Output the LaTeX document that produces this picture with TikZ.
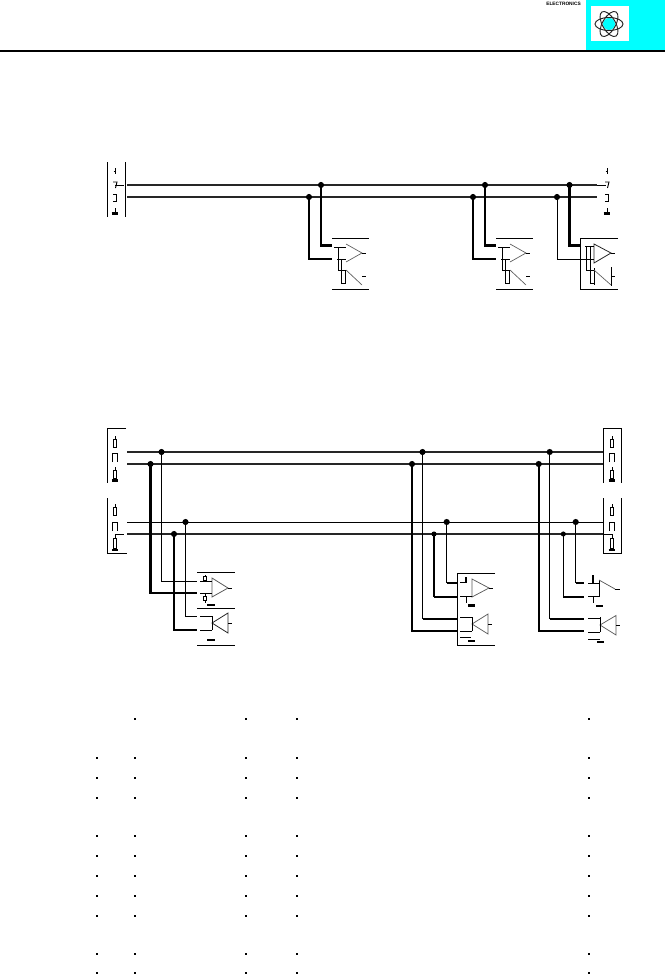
\documentclass[tikz,border=0pt]{standalone}
\usepackage{fontspec}
\setmainfont{Liberation Sans}
\definecolor{logocyan}{RGB}{0,255,255}
\definecolor{busgrey}{RGB}{150,150,150}
\tikzset{
 x=0.75pt,y=-0.75pt,
 thinwire/.style={line width=0.7pt,black},
 midwire/.style={line width=1.05pt,black},
 thickwire/.style={line width=1.65pt,black},
 buswire/.style={line width=2.2pt,busgrey,postaction={draw,line width=1pt,black!85}},
 palewire/.style={line width=0.5pt,black!65},
 darkwire/.style={line width=0.6pt,black!85},
 gndbar/.style={line width=1.6pt,black},
 junction/.style={circle,fill=black,inner sep=0pt,minimum size=4.6pt},
 gridpt/.style={rectangle,fill=black,inner sep=0pt,minimum size=1.7pt},
 orbit/.style={line width=0.7pt,black!85,draw},
}
% resistor lead + narrow body
\newcommand{\zigtop}[2]{\draw[thinwire] (#1,#2) -- (#1,#2+3) -- (#1-1.8,#2+3) -- (#1-1.8,#2+11) -- (#1+1.8,#2+11) -- (#1+1.8,#2+3) -- (#1,#2+3);}
\newcommand{\resbox}[2]{\draw[thinwire] (#1-2.2,#2+9) -- (#1-2.2,#2) -- (#1+2.2,#2) -- (#1+2.2,#2+9);}
\begin{document}
\begin{tikzpicture}
\useasboundingbox (0,0) rectangle (665,974);
% ---------- header ----------
\fill[logocyan] (586,0) rectangle (665,50);
\fill[white] (591,6) rectangle (629,41);
\fill[logocyan] (609,24) circle (6);
\foreach \a in {0,60,120} \draw[orbit,rotate around={\a:(609,24)}] (609,24) ellipse (14 and 6.5);
\draw[line width=0.9pt] (0,51) -- (665,51);
\node[font=\fontsize{3.6pt}{4pt}\selectfont\bfseries,inner sep=0pt] (brand) at (563.5,3.5) {ELECTRONICS};

% ---------- diagram 1: connectors ----------
\draw[thinwire] (107,162) -- (107,217) (125.5,162) -- (125.5,217);
\foreach \px in {115,607}{
  \draw[thinwire] (\px-1.5,171) -- (\px+.5,171) (\px+.5,168) -- (\px+.5,174);
  \draw[thinwire] (\px-2,182) -- (\px+2,182) -- (\px+.5,188);
  \draw[thinwire] (\px-2,194) -- (\px+1,194) -- (\px+1,201) -- (\px-2,201);
  \draw[thinwire] (\px,208) -- (\px,212);
  \draw[gndbar] (\px-3.5,213.5) -- (\px+3,213.5);
}
\coordinate (p1a) at (115,185);
\coordinate (p1b) at (124,185);
\draw[thinwire] (p1a) -- (p1b);
% buses
\coordinate (b1L) at (127,185); \coordinate (b1R) at (597,185);
\coordinate (b2L) at (127,197); \coordinate (b2R) at (597,197);
\draw[buswire] (b1L) -- (b1R);
\draw[buswire] (b2L) -- (b2R);
\coordinate (p2a) at (597,185); \coordinate (p2b) at (606,185);
\draw[thinwire] (p2a) -- (p2b);
% junctions
\node[junction] (j1a) at (321,185) {};
\node[junction] (j1b) at (309,197) {};
\node[junction] (j2a) at (485,185) {};
\node[junction] (j2b) at (473,197) {};
\node[junction] (j3a) at (569.5,185) {};
\node[junction] (j3b) at (557,197) {};
% transceivers 1 and 2 (open style)
\foreach \dx in {0,164}{
  \begin{scope}[xshift=\dx*0.75pt]
  \draw[palewire] (346,244) -- (362,253) -- (346,262);
  \draw[palewire] (346,270) -- (362,285);
  \draw[thinwire] (332,238) -- (369,238) (332,289) -- (369,289);
  \draw[thinwire] (362,253) -- (366,253) (362,276) -- (366,276);
  \draw[thinwire] (334,247) -- (346,247) (337,259) -- (346,259);
  \draw[thinwire] (338,247) -- (338,270) -- (345,270);
  \draw[thinwire] (341.5,259) -- (341.5,283) -- (346,283);
  \draw[thinwire] (345,270) -- (345,283);
  \end{scope}
}
\coordinate (t1a) at (332,245.5); \coordinate (t1b) at (332,259);
\coordinate (t2a) at (496,245.5); \coordinate (t2b) at (496,259);
\draw[thickwire] (j1a.center) |- (t1a);
\draw[thickwire] (j1b.center) |- (t1b);
\draw[thickwire] (j2a.center) |- (t2a);
\draw[thickwire] (j2b.center) |- (t2b);
% transceiver 3 (boxed)
\coordinate (k3a) at (580,245.5);
\coordinate (k3b) at (580,259);
\draw[thickwire] (j3a.center) |- (k3a);
\draw[thinwire] (j3b.center) |- (k3b);
\draw[thinwire] (618,238) -- (580,238) -- (580,289) -- (618,289);
\draw[darkwire] (594,244) -- (611,253) -- (594,263) -- cycle;
\draw[thinwire] (611,253) -- (615,253);
\draw[thinwire] (585,246) -- (594,246) (580,259) -- (594,259);
\draw[thinwire] (586,246) -- (586,270) -- (594,270);
\draw[thinwire] (590,246) -- (590,283) -- (594,283);
\draw[thinwire] (594,268) -- (594,285);
\draw[palewire] (594,270) -- (611,285);
\draw[thinwire] (611,267) -- (611,286) (611,276) -- (615,276);

% ---------- diagram 2: connectors ----------
\draw[thinwire] (126,428) -- (107,428) -- (107,483);
\draw[thinwire] (107,498) -- (107,553) -- (126.5,553);
\draw[thinwire] (603,483) -- (603,428) -- (621.5,428) -- (621.5,483);
\draw[thinwire] (603,498) -- (603,553) -- (621.5,553) -- (621.5,498);
\foreach \px in {115,612}{
  \zigtop{\px}{436}
  \resbox{\px}{453}
  \zigtop{\px}{467}
  \draw[gndbar] (\px-3.5,480.5) -- (\px+3,480.5);
  \zigtop{\px}{504}
  \resbox{\px}{522}
  \draw[thinwire] (\px,534) -- (\px,538) (\px-1.8,538) rectangle (\px+1.8,548);
  \draw[gndbar] (\px-3.5,550) -- (\px+3,550);
}
% pin 3 stubs
\coordinate (s1a) at (115,534); \coordinate (s1b) at (124,534);
\coordinate (s2a) at (603,534); \coordinate (s2b) at (612,534);
\draw[thinwire] (s1a) -- (s1b);
\draw[thinwire] (s2a) -- (s2b);
% buses
\coordinate (c1L) at (127,452); \coordinate (c1R) at (603,452);
\coordinate (c2L) at (127,464); \coordinate (c2R) at (603,464);
\coordinate (c3L) at (127,522); \coordinate (c3R) at (603,522);
\coordinate (c4L) at (127,534); \coordinate (c4R) at (603,534);
\draw[buswire] (c1L) -- (c1R);
\draw[buswire] (c2L) -- (c2R);
\draw[thinwire] (c3L) -- (c3R);
\draw[buswire] (c4L) -- (c4R);
% junctions
\node[junction] (a1) at (161.5,452) {};
\node[junction] (a2) at (150.5,464) {};
\node[junction] (a3) at (185.5,522) {};
\node[junction] (a4) at (174,534) {};
\node[junction] (m1) at (422.5,452) {};
\node[junction] (m2) at (412,464) {};
\node[junction] (m3) at (446.7,522) {};
\node[junction,minimum size=3.8pt] (m4) at (434,534) {};
\node[junction] (r1) at (549.7,452) {};
\node[junction] (r2) at (538.7,464) {};
\node[junction] (r3) at (575.7,522) {};
\node[junction,minimum size=3.8pt] (r4) at (563.3,534) {};
% left unit
\coordinate (ua1) at (197,581); \coordinate (ua2) at (197,593);
\coordinate (ua3) at (197,616); \coordinate (ua4) at (197,630);
\draw[thinwire] (a1.center) |- (ua1);
\draw[thickwire] (a2.center) |- (ua2);
\draw[thinwire] (a3.center) |- (ua3);
\draw[thickwire] (a4.center) |- (ua4);
\draw[thinwire] (197,572) -- (235,572) (197,608) -- (235,608) (197,645) -- (235,645);
\draw[palewire,line width=0.6pt] (212,578) -- (228,588) -- (212,597) -- cycle;
\draw[thinwire] (228,588) -- (232,588);
\draw[thinwire] (200,581) -- (212,581) (200,593) -- (212,593);
\draw[thinwire] (205,575) -- (205,581) (205,593) -- (205,603);
\draw[thinwire,fill=white] (203.5,576) rectangle (206.5,580);
\draw[thinwire,fill=white] (203.5,596) rectangle (206.5,600);
\draw[gndbar] (207,605) -- (215,605);
\draw[darkwire] (228,613) -- (212,623) -- (228,633) -- cycle;
\draw[thinwire] (228,623) -- (232,623);
\draw[thinwire] (212,616) -- (212,630);
\draw[thinwire] (200,616) -- (212,616) (200,630) -- (212,630);
\draw[gndbar] (207,640) -- (215,640);
% middle unit
\coordinate (ub1) at (457,583); \coordinate (ub2) at (457,597);
\coordinate (ub3) at (457,619); \coordinate (ub4) at (457,631);
\draw[thinwire] (m3.center) -- (446.7,583);
\draw[thickwire] (446.7,583) -- (ub1);
\draw[midwire] (m4.center) -- (434,597);
\draw[thickwire] (434,597) -- (ub2);
\draw[thickwire] (m2.center) |- (ub4);
\draw[thinwire] (m1.center) -- (422.5,619);
\draw[thickwire] (422.5,619) -- (ub3);
\draw[thinwire] (495,573) -- (457,573) -- (457,645) -- (495,645);
\draw[palewire,line width=0.55pt] (472,579) -- (489,588) -- (472,597) -- cycle;
\draw[thinwire] (489,588) -- (492.5,588);
\draw[thinwire] (460,582) -- (467,582) (460,596) -- (472,596);
\draw[midwire] (466,577) -- (466,582);
\draw[thinwire] (466,597) -- (466,603);
\draw[gndbar] (468,605.5) -- (475,605.5);
\draw[palewire,line width=0.55pt] (488,614) -- (472,624) -- (488,634) -- cycle;
\draw[thinwire] (488,624) -- (492,624);
\draw[thinwire] (472,617) -- (472,631);
\draw[thinwire] (460,617) -- (472,617) (460,631) -- (472,631) (460,637.5) -- (471,637.5);
\draw[gndbar] (468,641) -- (475,641);
% right unit
\coordinate (uc1) at (584,583); \coordinate (uc2) at (584,597);
\coordinate (uc3) at (584,619); \coordinate (uc4) at (584,631);
\draw[thinwire] (r3.center) -- (575.7,583);
\draw[thickwire] (575.7,583) -- (uc1);
\draw[thinwire] (r4.center) -- (563.3,597);
\draw[thickwire] (563.3,597) -- (uc2);
\draw[thinwire] (r1.center) -- (549.7,619);
\draw[thickwire] (549.7,619) -- (uc3);
\draw[thickwire] (r2.center) |- (uc4);
\draw[thinwire] (588,583) -- (599,583) (588,596.5) -- (599,596.5);
\draw[midwire] (593,575) -- (593,583);
\draw[thinwire] (593,597) -- (593,603);
\draw[gndbar] (596,606) -- (603,606);
\draw[thinwire] (599,580) -- (599,596.5);
\draw[palewire,line width=0.55pt] (599,580) -- (615,589);
\draw[thinwire] (615,589) -- (620,589);
\draw[palewire,line width=0.55pt] (616,615.5) -- (600,625) -- (616,635) -- cycle;
\draw[thinwire] (616,625) -- (620,625);
\draw[thinwire] (600,617) -- (600,632);
\draw[thinwire] (588,618) -- (600,618) (588,632) -- (600,632) (588,639) -- (600,639);
\draw[gndbar] (597,642) -- (604,642);

% ---------- grid of dots ----------
\foreach \r/\y in {b/758,c/778,d/798,e/836,f/856,g/876,h/896,i/916,j/954,k/973}{
  \node[gridpt] (g97\r) at (97,\y) {};
}
\foreach \r/\y in {a/718.7,b/758,c/778,d/798,e/836,f/856,g/876,h/896,i/916,j/954,k/973}{
  \foreach \cx in {135,246,297,589}{
    \node[gridpt] (g\cx\r) at (\cx,\y) {};
  }
}
\end{tikzpicture}
\end{document}
